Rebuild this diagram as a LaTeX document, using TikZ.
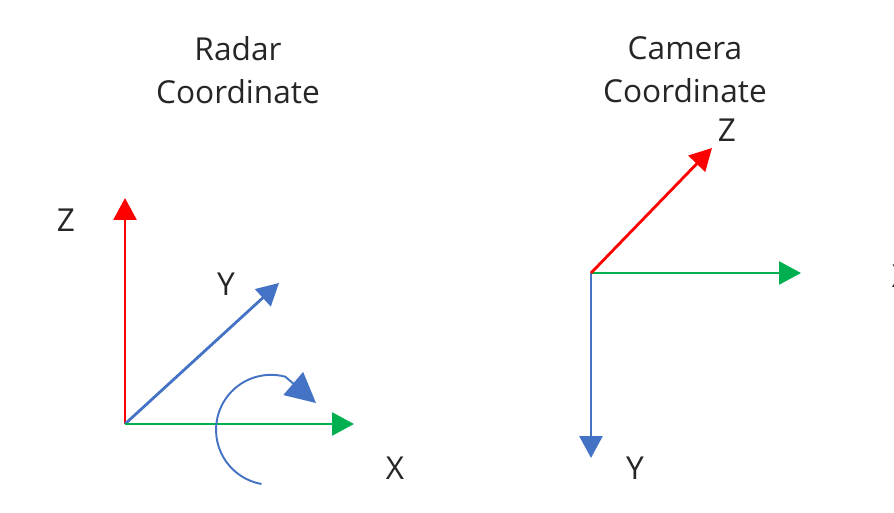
\documentclass[tikz,border=0pt]{standalone}
\usepackage{fontspec}
\setmainfont{Open Sans}
\usetikzlibrary{arrows.meta}
\definecolor{axisred}{HTML}{FF0000}
\definecolor{axisgreen}{HTML}{00B050}
\definecolor{axisblue}{HTML}{4472C4}
\definecolor{labelgray}{HTML}{262626}

\begin{document}
\begin{tikzpicture}[x=0.02cm,y=0.02cm,
 axis/.style={line width=1.6pt,-{Triangle[length=0.44cm,width=0.46cm]}},
 lbl/.style={text=labelgray,font=\fontsize{18}{24.5}\selectfont,inner sep=0pt}]
 \useasboundingbox (0,0) rectangle (894,-513);
 % radar frame
 \coordinate (rO) at (125,-424);
 \coordinate (rX) at (354,-424);
 \coordinate (rY) at (279,-283);
 \coordinate (rZ) at (125,-198);
 \coordinate (rRot) at (261.5,-484);
 \coordinate (rTip) at (316,-403);
 \draw[axis,axisred] (rO)--(rZ);
 \draw[axis,axisblue] (rO)--(rY);
 \draw[axis,axisgreen] (rO)--(rX);
 \draw[axisblue,line width=1.1pt,-{Triangle[length=0.6cm,width=0.6cm]}] (rRot)
 arc[start angle=260,end angle=75,radius=55]--(rTip);
 \node[lbl,align=center] (rTitle) at (238,-70){Radar\\Coordinate};
 \node[lbl] (rZlbl) at (66,-220){Z};
 \node[lbl] (rYlbl) at (226,-284){Y};
 \node[lbl] (rXlbl) at (395,-468){X};
 % camera frame
 \coordinate (cO) at (591,-273);
 \coordinate (cX) at (801,-273);
 \coordinate (cY) at (591,-458);
 \coordinate (cZ) at (712,-148);
 \draw[axis,axisgreen] (cO)--(cX);
 \draw[axis,axisblue] (cO)--(cY);
 \draw[axis,axisred] (cO)--(cZ);
 \node[lbl,align=center] (cTitle) at (685,-70){Camera\\Coordinate};
 \node[lbl] (cZlbl) at (727,-130){Z};
 \node[lbl] (cYlbl) at (635,-468){Y};
 \node[lbl] (cXlbl) at (901,-276){X};
\end{tikzpicture}
\end{document}
